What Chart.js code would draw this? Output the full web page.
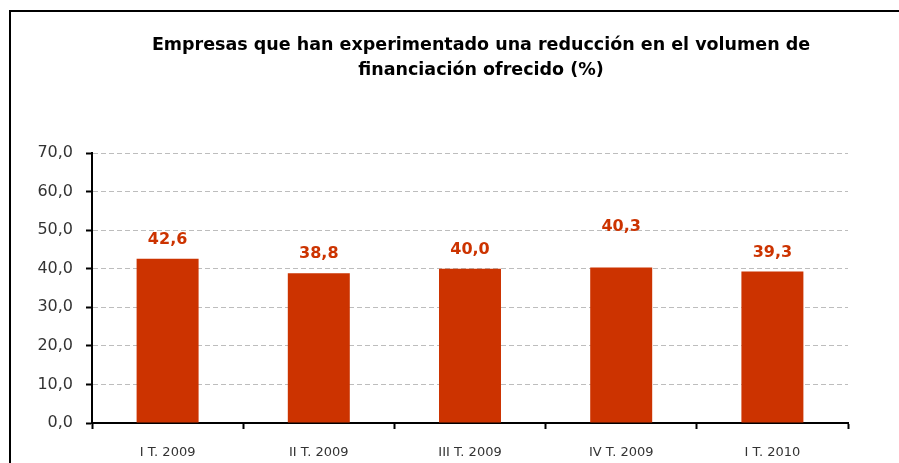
<!DOCTYPE html>
<html>
<head>
<meta charset="utf-8">
<script src="https://cdn.jsdelivr.net/npm/chart.js@4/dist/chart.umd.min.js"></script>
<style>
  body { margin: 0; background: #fff; }
  canvas { display: block; }
</style>
</head>
<body>
<canvas id="reduccionChart" width="899" height="463"></canvas>
<script>
// data
const quarters = ["I T. 2009", "II T. 2009", "III T. 2009", "IV T. 2009", "I T. 2010"];
const reduction = [42.6, 38.8, 40.0, 40.3, 39.3];
const yTicks = [0, 10, 20, 30, 40, 50, 60, 70];
const titleLines = ['Empresas que han experimentado una reducción en el volumen de',
                    'financiación ofrecido (%)'];

const barColor = '#CC3300';
const fmt = v => v.toFixed(1).replace('.', ',');

// outer frame (only left and top edges are visible) + title, centred like the original
const framePlugin = {
  id: 'frame',
  beforeDraw(chart) {
    const c = chart.ctx;
    c.save();
    c.fillStyle = '#fff';
    c.fillRect(0, 0, chart.width, chart.height);
    c.strokeStyle = '#000';
    c.lineWidth = 2;
    c.beginPath();
    c.moveTo(10, chart.height);
    c.lineTo(10, 11);
    c.lineTo(chart.width, 11);
    c.stroke();

    c.fillStyle = '#000';
    c.font = 'bold 17.5px "DejaVu Sans"';
    c.textAlign = 'center';
    c.textBaseline = 'middle';
    titleLines.forEach((t, i) => c.fillText(t, 481, 45 + i * 25));
    c.restore();
  }
};

// value labels above the bars
const valueLabels = {
  id: 'valueLabels',
  afterDatasetsDraw(chart, args, opts) {
    const c = chart.ctx;
    const meta = chart.getDatasetMeta(0);
    c.save();
    c.font = 'bold 16px "DejaVu Sans"';
    c.fillStyle = barColor;
    c.textAlign = 'center';
    c.textBaseline = 'middle';
    meta.data.forEach((bar, i) => {
      const lift = opts.gap + (opts.extra[i] || 0);
      c.fillText(fmt(reduction[i]), bar.x, bar.y - lift);
    });
    c.restore();
  }
};

const ctx = document.getElementById('reduccionChart').getContext('2d');

new Chart(ctx, {
  type: 'bar',
  data: {
    labels: quarters,
    datasets: [{
      data: reduction,
      backgroundColor: barColor,
      borderWidth: 0,
      barPercentage: 0.41,
      categoryPercentage: 1
    }]
  },
  options: {
    responsive: false,
    animation: false,
    layout: { padding: { left: 0, right: 51, top: 153, bottom: 0 } },
    plugins: {
      legend: { display: false },
      tooltip: { enabled: false },
      title: { display: false },
      valueLabels: { gap: 19, extra: { 3: 22 } }
    },
    scales: {
      x: {
        afterFit: s => { s.height = 40; },
        grid: {
          display: true,
          drawOnChartArea: false,
          offset: true,
          tickLength: 6,
          tickColor: '#000',
          tickWidth: 2
        },
        border: { display: true, color: '#000', width: 2 },
        ticks: {
          color: '#333',
          font: { family: 'DejaVu Sans', size: 13 },
          padding: 16
        }
      },
      y: {
        min: 0,
        max: 70,
        afterFit: s => { s.width = 92; },
        afterBuildTicks: s => { s.ticks = yTicks.map(v => ({ value: v })); },
        grid: {
          color: '#bdbdbd',
          lineWidth: 1,
          tickLength: 6,
          tickColor: '#000',
          tickWidth: 2,
          tickBorderDash: []
        },
        border: { display: true, color: '#000', width: 2, dash: [5, 3] },
        ticks: {
          color: '#333',
          font: { family: 'DejaVu Sans', size: 16 },
          padding: 13,
          callback: v => fmt(v)
        }
      }
    }
  },
  plugins: [framePlugin, valueLabels]
});
</script>
</body>
</html>
